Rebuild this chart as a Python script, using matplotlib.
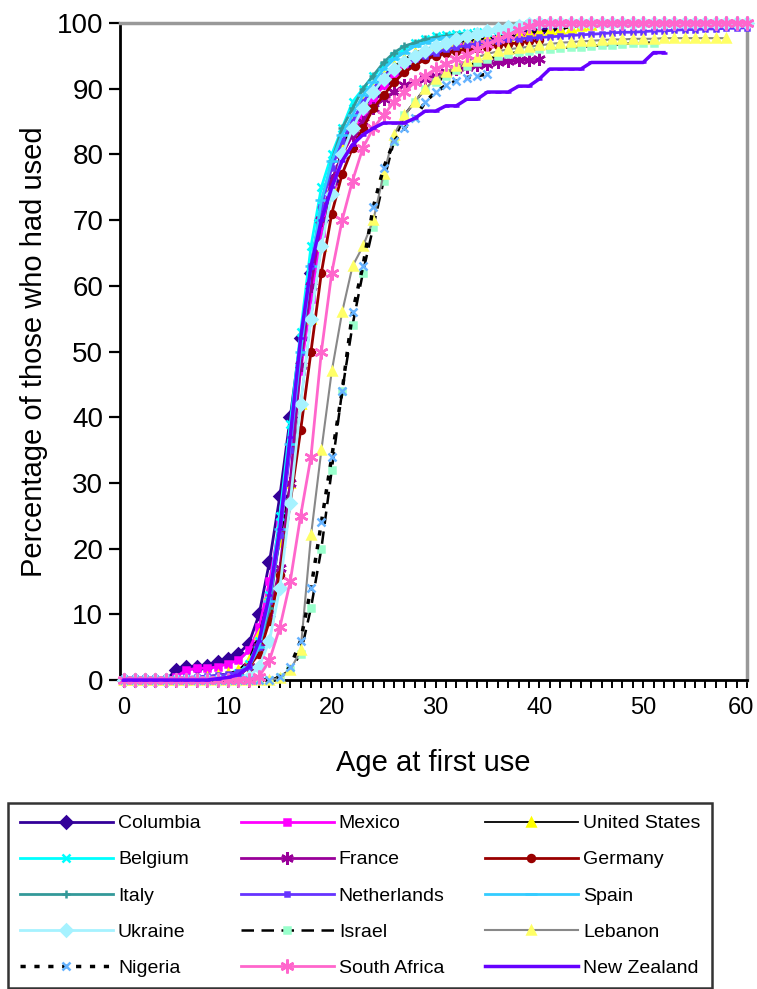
import matplotlib
matplotlib.use("Agg")
import matplotlib.pyplot as plt
import matplotlib.transforms as mtransforms
from matplotlib.ticker import MultipleLocator

plt.rcParams['font.family'] = ['Liberation Sans', 'DejaVu Sans']

# cumulative % of users by age at first use, one value per year of age starting at 0
columbia = [0,0,0,0,0, 1.5,2,2,2.2,2.8, 3.2,4,5.5,10,18, 28,40,52,62,70,
            76,80,84,87,89, 91,92.5,93.5,94.5,95, 95.5,96,96.3,96.6,97,
            97.3,97.6,97.9,98.2,98.5, 98.8,99.2,99.5]
mexico = [0,0,0,0,0, 0.5,1.5,1.8,1.8,2, 2.5,3,4.5,8,15, 24,35,47,58,68,
          75,80,83,86,88.5, 90.5,92,93.5,94.5,95.3, 95.8,96.2,96.5,96.8,97,
          97.2,97.4,97.6,97.8,98, 98.2]
united_states = [0,0,0,0,0, 0,0,0.2,0.5,0.8, 1,1.5,3,7,13, 21,30,42,55,66,
                 75,81,85,88,90, 92,93.5,94.5,95.5,96, 96.5,96.8,97,97.3,97.5,
                 97.7,97.9,98.1,98.3,98.5, 98.7,98.9,99.1,99.3,99.5, 99.7]
belgium = [0,0,0,0,0, 0,0,0,0,0.3, 0.5,1,2.5,6,13, 25,39,53,66,75,
           80,84,88,90,92, 93.5,95,96,97,97.5, 98,98.2,98.4,98.5,98.6,
           98.7,99,99.3,99.6,99.8, 100]
france = [0,0,0,0,0, 0,0,0,0,0, 0,0.5,2,5,10, 17,30,48,60,70,
          76,80,83,85,87, 88.5,89.5,90.5,91,91.5, 92,92.5,93,93.3,93.6,
          93.8,94,94.2,94.3,94.4, 94.5]
germany = [0,0,0,0,0, 0,0,0,0,0, 0.3,0.8,2,4,9, 16,27,38,50,62,
           71,77,81,84,87, 89,91,92.5,93.5,94.5, 95,95.4,95.7,96,96.2,
           96.4,96.6,96.8,97,97.2, 97.4]
italy = [0,0,0,0,0, 0,0,0,0,0, 0.3,0.8,2,5,11, 22,36,50,63,72,
         79,84,87,90,92, 94,95.5,96.5,97,97.5, 97.8,98,98.2,98.4,98.6,
         98.8]
netherlands = [0.3,0.3,0.3,0.3,0.3, 0.3,0.4,0.5,0.6,0.7, 0.9,1.2,2,5,12, 22,35,50,63,72,
               78,82,85,88,90, 92,93,94,94.5,95, 95.5,96,96.3,96.6,96.9,
               97.1,97.3,97.5,97.6,97.7, 97.8,97.9,98,98.1,98.2, 98.3,98.4,98.5,98.6,98.6,
               98.7,98.8,98.8,98.9,99, 99,99.1,99.1,99.2,99.2, 99.3]
spain = [0,0,0,0,0, 0,0,0,0,0.2, 0.4,0.8,2,5,12, 23,36,50,63,73,
         79,83,86,89,91, 93,94.5,95.5,96.5,97, 97.5,97.8,98,98.2,98.4,
         98.6,98.8,99,99.2]
ukraine = [0,0,0,0,0, 0,0,0,0,0, 0,0,0.5,2,6, 14,27,42,55,66,
           74,80,84,87,89.5, 91.5,93,94,95,95.8, 96.5,97,97.5,98,98.4,
           98.8,99.1,99.4,99.6,99.8, 100,100,100,100,100, 100,100,100,100,100,
           100,100,100,100,100, 100,100,100,100,100, 100]
israel = [0,0,0,0,0, 0,0,0,0,0, 0,0,0,0,0, 0.5,1.5,4,11,20,
          32,44,54,62,69, 76,82,86,88,90, 91,92,92.8,93.5,94,
          94.5,95,95.3,95.6,95.8, 96,96.1,96.2,96.3,96.4, 96.5,96.6,96.7,96.8,96.9,
          97,97]
lebanon = [0,0,0,0,0, 0,0,0,0,0, 0,0,0,0,0, 0.3,1.5,4.5,22,35,
           47,56,63,66,70, 77,83,86,88,90, 91.5,92.5,93.5,94.2,94.8,
           95.3,95.7,96,96.2,96.4, 96.6,96.8,97,97.1,97.2, 97.3,97.4,97.5,97.5,97.6,
           97.6,97.6,97.7,97.7,97.7, 97.7,97.7,97.7,97.7]
nigeria = [0,0,0,0,0, 0,0,0,0,0, 0,0,0,0,0, 0.5,2,6,14,24,
           34,44,56,63,72, 78,82,84,85.5,88, 89.5,90.5,91.2,91.7,92,
           92.2]
south_africa = [0,0,0,0,0, 0,0,0,0,0, 0,0,0,0.5,3, 8,15,25,34,50,
                62,70,76,81,84, 86,88,89.5,91,92, 93,93.8,94.5,95.2,96,
                96.8,97.5,98.2,99,99.5, 100,100,100,100,100, 100,100,100,100,100,
                100,100,100,100,100, 100,100,100,100,100, 100]
new_zealand = [0,0,0,0,0, 0,0,0,0,0.2, 0.4,0.8,2,6,13, 23,37,52,63,70,
               75,79,81.5,83,84, 84.8,84.8,84.8,85.5,86.6, 86.6,87.4,87.4,88.4,88.4,
               89.5,89.5,89.5,90.4,90.4, 91.5,93,93,93,93, 94,94,94,94,94,
               94,95.5,95.5]

asterisk = (6, 2, 0)

# name, values, line color, line style, line width, marker, marker color, marker size
series = [
    ("Columbia", columbia, "#330099", "-", 2, "D", "#330099", 6),
    ("Mexico", mexico, "#FF00FF", "-", 2, "s", "#FF00FF", 5),
    ("United States", united_states, "#000000", "-", 1.3, "^", "#FFFF00", 6),
    ("Belgium", belgium, "#00FFFF", "-", 2, "x", "#00FFFF", 6),
    ("France", france, "#990099", "-", 2, asterisk, "#990099", 9),
    ("Germany", germany, "#990000", "-", 2, "o", "#990000", 5),
    ("Italy", italy, "#339999", "-", 2, "+", "#339999", 6),
    ("Netherlands", netherlands, "#6633FF", "-", 2, "s", "#6633FF", 3.5),
    ("Spain", spain, "#33CCFF", "-", 2, "_", "#33CCFF", 8),
    ("Ukraine", ukraine, "#A6F2FF", "-", 2, "D", "#A6F2FF", 6.5),
    ("Israel", israel, "#000000", (0, (5, 3)), 1.8, "s", "#99FFCC", 5),
    ("Lebanon", lebanon, "#888888", "-", 1.5, "^", "#FFFF66", 6),
    ("Nigeria", nigeria, "#000000", (0, (1.5, 2.5)), 2.5, "x", "#66B3FF", 6),
    ("South Africa", south_africa, "#FF66CC", "-", 2, asterisk, "#FF66CC", 10),
    ("New Zealand", new_zealand, "#6600FF", "-", 2.5, "_", "#6600FF", 5),
]

fig = plt.figure(figsize=(7.57, 9.89), dpi=100)
ax = fig.add_axes([0.1585, 0.3124, 0.8283, 0.6643])

handles = []
for name, vals, col, ls, lw, mk, mcol, ms in series:
    ages = list(range(len(vals)))
    h, = ax.plot(ages, vals, color=col, linestyle=ls, linewidth=lw,
                 marker=mk, markersize=ms, markerfacecolor=mcol,
                 markeredgecolor=mcol, markeredgewidth=1.8,
                 label=name, clip_on=False, zorder=3)
    handles.append(h)

ax.set_xlim(-0.4, 60)
ax.set_ylim(0, 100)
ax.xaxis.set_major_locator(MultipleLocator(10))
ax.xaxis.set_minor_locator(MultipleLocator(1))
ax.yaxis.set_major_locator(MultipleLocator(10))

for s in ["left", "bottom"]:
    ax.spines[s].set_linewidth(2)
    ax.spines[s].set_color("black")
for s in ["top", "right"]:
    ax.spines[s].set_linewidth(2.5)
    ax.spines[s].set_color("#999999")

ax.tick_params(axis="y", direction="out", length=8, width=1.6, labelsize=20, pad=4)
ax.tick_params(axis="x", which="both", direction="out", length=6, width=1.4,
               labelsize=17, pad=6)

ax.set_xlabel("Age at first use", fontsize=21, labelpad=22)
ax.set_ylabel("Percentage of those who had used", fontsize=21, labelpad=6)

fig.canvas.draw()
# keep the "60" tick label inside the picture
for lab in ax.get_xticklabels():
    if lab.get_text() == "60":
        lab.set_transform(lab.get_transform() +
                          mtransforms.ScaledTranslation(-6 / 100, 0, fig.dpi_scale_trans))

# legend rows: 3 entries per row, matplotlib fills columns first
order = [0, 3, 6, 9, 12, 1, 4, 7, 10, 13, 2, 5, 8, 11, 14]
leg = fig.legend([handles[i] for i in order], [series[i][0] for i in order],
                 ncol=3, loc="upper left", bbox_to_anchor=(0.0106, 0.002, 0.930, 0.186),
                 mode="expand", fontsize=14, numpoints=1, handlelength=4.8,
                 handletextpad=0.25, labelspacing=0.95, borderaxespad=0,
                 fancybox=False, frameon=True, borderpad=0.6)
leg.get_frame().set_edgecolor("black")
leg.get_frame().set_linewidth(1.8)

fig.savefig("out.png", dpi=100)
